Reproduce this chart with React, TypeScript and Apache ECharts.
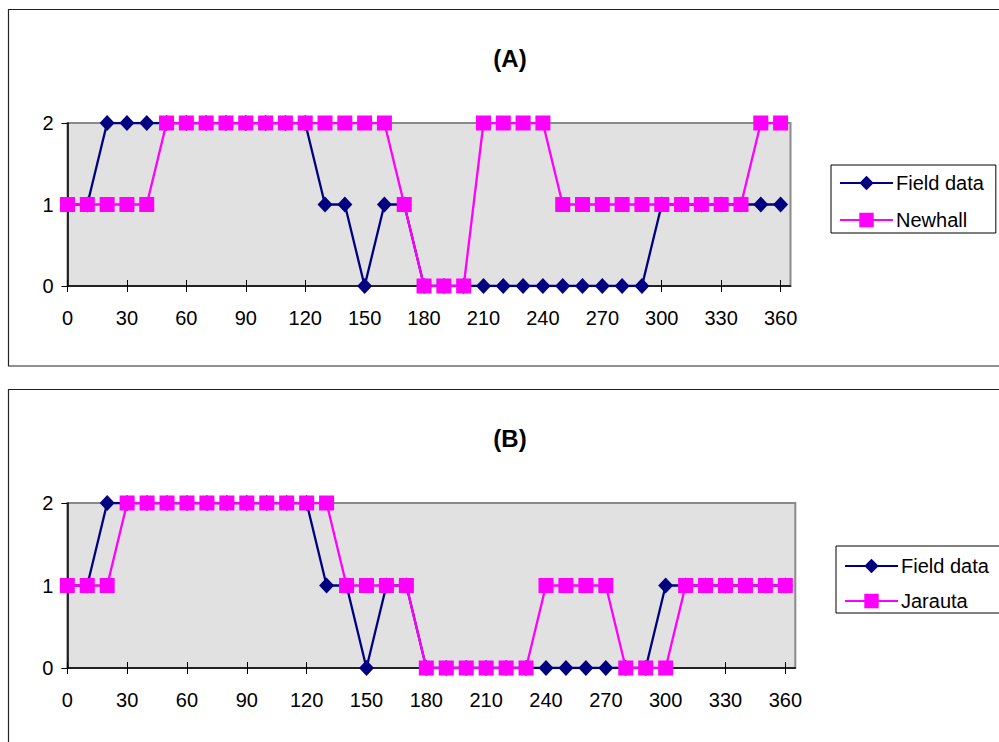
import React, { useEffect, useRef } from "react";
import * as echarts from "echarts";

const xValues = [0, 10, 20, 30, 40, 50, 60, 70, 80, 90, 100, 110, 120, 130, 140, 150, 160, 170, 180, 190, 200, 210, 220, 230, 240, 250, 260, 270, 280, 290, 300, 310, 320, 330, 340, 350, 360];
const fieldA = [1, 1, 2, 2, 2, 2, 2, 2, 2, 2, 2, 2, 2, 1, 1, 0, 1, 1, 0, 0, 0, 0, 0, 0, 0, 0, 0, 0, 0, 0, 1, 1, 1, 1, 1, 1, 1];
const newhall = [1, 1, 1, 1, 1, 2, 2, 2, 2, 2, 2, 2, 2, 2, 2, 2, 2, 1, 0, 0, 0, 2, 2, 2, 2, 1, 1, 1, 1, 1, 1, 1, 1, 1, 1, 2, 2];
const fieldB = [1, 1, 2, 2, 2, 2, 2, 2, 2, 2, 2, 2, 2, 1, 1, 0, 1, 1, 0, 0, 0, 0, 0, 0, 0, 0, 0, 0, 0, 0, 1, 1, 1, 1, 1, 1, 1];
const jarauta = [1, 1, 1, 2, 2, 2, 2, 2, 2, 2, 2, 2, 2, 2, 1, 1, 1, 1, 0, 0, 0, 0, 0, 0, 1, 1, 1, 1, 0, 0, 0, 1, 1, 1, 1, 1, 1];
const xTicks = [0, 30, 60, 90, 120, 150, 180, 210, 240, 270, 300, 330, 360];
const yTicks = [0, 1, 2];
const titles = ["(A)", "(B)"];

const FONT = "'Liberation Sans', Arial, sans-serif";
const NAVY = "#000080";
const PINK = "#FF00FF";

const pairs = (ys: number[]) => xValues.map((x, i) => [x, ys[i]]);

export default function App() {
  const ref = useRef<HTMLDivElement>(null);
  useEffect(() => {
    if (!ref.current) return;
    const chart = echarts.init(ref.current, null, { renderer: "svg" });

    const grids = [
      { left: 67.5, top: 123, width: 723, height: 163 },
      { left: 67.3, top: 503, width: 728, height: 165 },
    ];

    const xAxes: any[] = [];
    const yAxes: any[] = [];
    grids.forEach((_, gi) => {
      xAxes.push({
        type: "value",
        gridIndex: gi,
        position: "bottom",
        min: 0,
        max: 365,
        axisLine: { show: true, onZero: false, lineStyle: { color: "#000", width: 1.5 } },
        axisTick: { show: true, inside: false, length: 6, customValues: xTicks, lineStyle: { color: "#000", width: 1 } },
        axisLabel: { show: true, customValues: xTicks, margin: 22, fontSize: 20, color: "#000", fontFamily: FONT },
        splitLine: { show: false },
      });
      xAxes.push({
        type: "value",
        gridIndex: gi,
        position: "bottom",
        min: 0,
        max: 365,
        axisLine: { show: false },
        axisTick: { show: true, inside: true, length: 6, customValues: xTicks, lineStyle: { color: "#000", width: 1 } },
        axisLabel: { show: false },
        splitLine: { show: false },
      });
      yAxes.push({
        type: "value",
        gridIndex: gi,
        min: 0,
        max: 2,
        interval: 1,
        axisLine: { show: true, lineStyle: { color: "#000", width: 1.5 } },
        axisTick: { show: true, inside: false, length: 6, lineStyle: { color: "#000", width: 1 } },
        axisLabel: { margin: 14, fontSize: 20, color: "#000", fontFamily: FONT, customValues: yTicks },
        splitLine: { show: false },
      });
    });

    const lineSeries = (name: string, ys: number[], gi: number, color: string, symbol: string, size: number | number[]) => ({
      type: "line",
      name,
      xAxisIndex: gi * 2,
      yAxisIndex: gi,
      data: pairs(ys),
      symbol,
      symbolSize: size,
      showAllSymbol: true,
      lineStyle: { color, width: 2.3 },
      itemStyle: { color },
      emphasis: { disabled: true },
    });

    const legendBase = {
      orient: "vertical",
      borderColor: "#000",
      borderWidth: 1,
      itemWidth: 53,
      itemHeight: 18,
      selectedMode: false,
      textStyle: { fontSize: 20, color: "#000", fontFamily: FONT, padding: [0, 0, 0, -2] },
    };

    chart.setOption({
      animation: false,
      grid: grids.map((g) => ({ ...g, show: true, backgroundColor: "#e1e1e1", borderColor: "#8a8a8a", borderWidth: 2 })),
      xAxis: xAxes,
      yAxis: yAxes,
      legend: [
        { ...legendBase, data: ["Field data", "Newhall"], left: 831, top: 165, itemGap: 17, padding: [8, 12, 3, 8] },
        { ...legendBase, data: ["Field data", "Jarauta"], left: 836, top: 546, itemGap: 15, padding: [10, 12, 2, 8] },
      ],
      graphic: [
        { type: "rect", shape: { x: 8.5, y: 9.5, width: 1100, height: 356.5 }, style: { fill: "none", stroke: "#222", lineWidth: 1.2 }, silent: true },
        { type: "rect", shape: { x: 8.5, y: 389.5, width: 1100, height: 400 }, style: { fill: "none", stroke: "#222", lineWidth: 1.2 }, silent: true },
        { type: "text", x: 510, y: 58, style: { text: titles[0], fontSize: 24, fontWeight: "bold", fontFamily: FONT, fill: "#000", textAlign: "center", textVerticalAlign: "middle" } },
        { type: "text", x: 510, y: 438, style: { text: titles[1], fontSize: 24, fontWeight: "bold", fontFamily: FONT, fill: "#000", textAlign: "center", textVerticalAlign: "middle" } },
      ],
      series: [
        lineSeries("Field data", fieldA, 0, NAVY, "diamond", [15, 16]),
        lineSeries("Newhall", newhall, 0, PINK, "rect", 15),
        lineSeries("Field data", fieldB, 1, NAVY, "diamond", [15, 16]),
        lineSeries("Jarauta", jarauta, 1, PINK, "rect", 15),
      ],
    });
    return () => chart.dispose();
  }, []);
  return <div ref={ref} style={{ position: "absolute", left: 0, top: 0, width: 999, height: 742 }} />;
}
